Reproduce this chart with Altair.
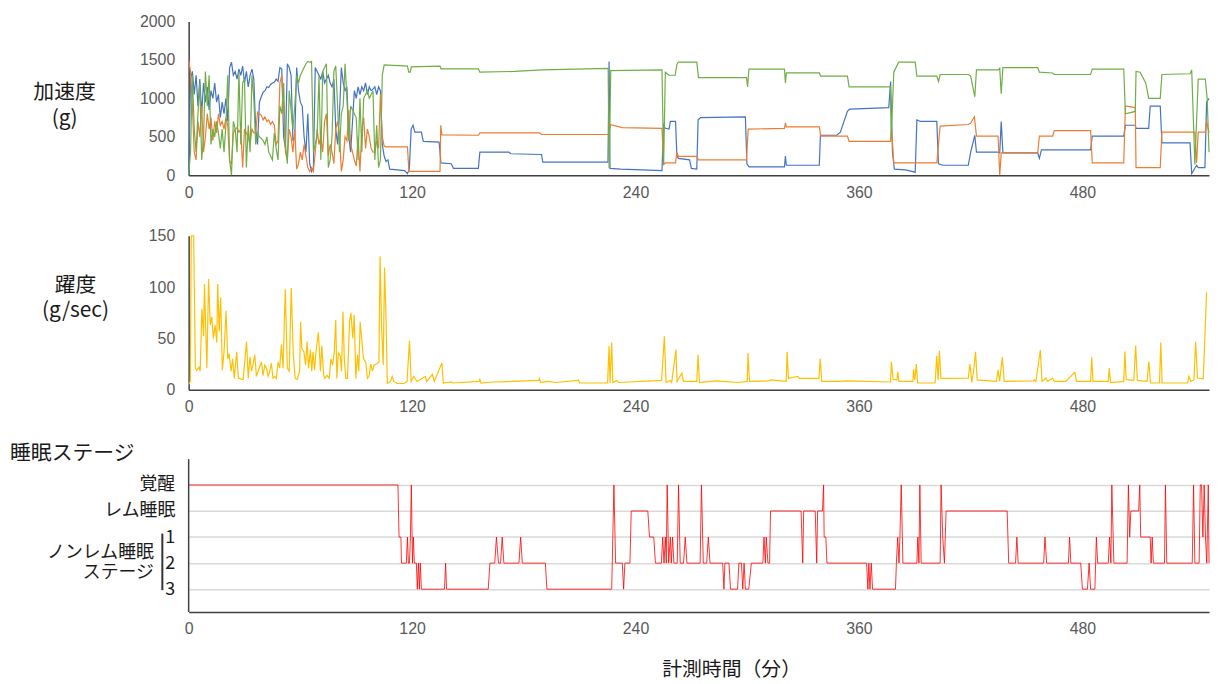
import altair as alt
import pandas as pd

# ---------------- data ----------------
# acceleration, dense part sampled every minute (t = 0..102)
blue_dense = [0,1250,1350,1050,1300,900,1250,800,1200,950,
              1150,850,1100,1000,1200,950,1050,750,950,800,
              1000,700,1400,1470,1300,1350,1250,1380,1300,1420,
              1200,1350,1150,1300,1380,1250,600,400,950,1020,
              1080,1100,1150,1140,1180,1200,1210,1250,1220,1400,
              1380,500,350,1450,1400,1300,450,500,1400,1100,
              950,900,500,300,800,150,50,100,1400,1350,
              1300,1250,1350,1200,1250,1300,1200,1150,1250,600,
              400,800,1400,1200,1100,1150,500,300,700,1100,
              1000,1150,1050,1150,1100,1200,1050,1150,1100,1120,
              1150,1050,1150]
orange_dense = [1500,1350,900,300,200,700,500,900,300,500,
                800,600,750,450,700,550,800,650,700,600,
                750,650,180,150,550,600,620,560,600,100,
                600,550,500,400,600,550,550,820,800,780,
                720,760,700,720,660,700,650,400,450,1200,
                1300,900,300,200,600,500,300,600,80,150,
                300,200,400,250,100,50,100,50,300,600,
                400,500,300,700,800,250,400,300,150,600,
                700,550,50,200,500,450,850,400,300,200,
                120,500,50,600,750,350,600,500,350,300,
                300,450,350]
green_dense = [0,300,1300,600,300,800,1200,200,500,1350,
               900,1300,400,600,500,700,550,350,600,300,
               650,1300,200,0,700,600,300,1350,400,1200,
               1250,100,650,300,1300,1000,400,550,500,480,
               450,400,500,300,250,200,550,350,200,900,
               800,1200,400,150,1100,850,600,900,1300,1200,
               1300,1350,1400,1450,1480,1470,1480,300,400,500,
               1300,200,1350,1400,1450,100,200,500,1350,1420,
               900,300,800,900,1450,1000,450,900,850,800,
               750,200,1000,300,1000,1050,1100,1000,1050,1100,
               200,650,100]

blue_tail = [(103,1100),(104,400),(105,250),(106,180),(107,200),(108,80),(112,70),(116,60),
             (117.5,20),(118.5,80),(119.5,600),(120.5,650),(121.5,560),(125,560),(126,440),
             (134.5,430),(135.5,160),(141,150),(142.2,90),(155.6,90),(156.4,300),(172,300),
             (173,280),(189.5,270),(190.2,170),(225.2,170),(225.8,1480),(226.3,90),(232,80),
             (254.2,60),(255.1,650),(256,610),(258,600),(258.7,700),(261.5,700),(262.2,260),
             (263,220),(269,200),(270,90),(272.9,80),(273.6,720),(275,750),(299,760),
             (299.8,150),(301,110),(320,110),(320.5,250),(321,130),(338.7,130),(339.3,520),
             (348,520),(350,560),(353.8,830),(355,860),(376,880),(377,1220),(378,300),
             (379,80),(385,70),(390.2,40),(391.1,720),(393,700),(401.8,700),(402.7,150),
             (405,130),(418.7,130),(420,300),(422.2,520),(423.1,300),(434.7,300),(435.6,290),
             (436.4,700),(437.3,290),(456,290),(456.9,220),(458,330),(484.4,330),(485.3,510),
             (502.2,510),(503.1,650),(508.4,650),(508.8,610),(515.6,610),(516.4,900),
             (521.8,900),(522.7,420),(537.8,420),(538.7,20),(541.3,130),(542.2,100),
             (545.8,100),(546.7,950),(548,1000)]
orange_tail = [(103,1050),(104,500),(105,380),(106,370),(117.5,370),(118.3,50),(135,50),
               (135.4,650),(136,525),(155.6,520),(156.4,550),(188.4,550),(189.5,530),
               (225.5,530),(226.7,657),(232.9,620),(254.2,610),(255.1,140),(256,160),
               (261.5,160),(262.2,300),(263,245),(272.9,245),(273.8,200),(299.6,200),
               (300.5,600),(320,610),(320.5,680),(321,630),(338.7,630),(339.5,510),
               (353.8,510),(354.7,440),(376.9,440),(377.5,610),(378.7,160),(401.8,160),
               (403.6,640),(418.7,660),(420,680),(422,760),(423.1,510),(434.7,510),
               (435.6,0),(436.4,290),(456,290),(456.9,510),(464,510),(464.9,580),
               (484.4,580),(485.3,160),(502.2,160),(503.1,900),(508.4,880),(508.8,100),
               (521.8,100),(522.7,560),(540.4,560),(541.3,160),(542.2,560),(546,560),
               (546.7,700),(548,550)]
green_tail = [(103,200),(104,1300),(105,1436),(117.5,1420),(118.2,1340),(119,1340),
              (119.6,1410),(135,1420),(135.5,1384),(155.6,1384),(156.4,1340),(175,1350),
              (190,1370),(225.3,1390),(225.8,90),(226.7,1360),(254.2,1370),(255.1,140),
              (256,1340),(258,1300),(261.3,1300),(262.2,1440),(263,1470),(272.9,1470),
              (273.8,1270),(299.6,1270),(300.2,1150),(300.9,1380),(320,1380),(320.5,1200),
              (321,1330),(338.7,1330),(339.5,1290),(353.8,1290),(354.7,1150),(376.9,1150),
              (377.3,482),(378.7,1340),(381.3,1470),(390.2,1470),(391.1,1290),(401.8,1290),
              (402.7,1220),(403.6,1310),(418.7,1310),(420,1290),(422.2,1020),(423.1,1370),
              (434.7,1370),(435.6,1390),(436.4,1060),(437.3,1400),(456,1400),(456.9,1340),
              (464,1330),(464.9,1310),(484.4,1310),(485.3,1380),(502.2,1380),(503.1,800),
              (508.4,830),(508.8,1350),(511,1340),(514,1200),(515.6,1000),(521.8,1000),
              (522.7,1310),(537.8,1320),(538.7,1370),(540.4,140),(542.2,1250),(546,1250),
              (547,1000),(548,300)]

# jerk (g/sec): (minute, value)
jerk_pts = [(0,5),(0.9,8),(1.4,150),(2.7,150),(3.6,21),(4.4,19),(5.5,22),(6.2,18),(7.1,79),
    (8.0,52),(8.5,103),(9.2,58),(9.8,21),(10.7,108),(11.6,63),(12.4,71),(13.3,50),(14.2,63),
    (15.1,46),(15.6,103),(16.4,57),(17.2,90),(18.1,19),(19.0,37),(20.1,77),(21.0,30),(21.7,35),
    (22.8,18),(23.6,30),(24.5,11),(25.8,37),(26.7,11),(27.6,11),(28.4,10),(29.3,10),(31.1,47),
    (32.0,11),(32.9,32),(33.8,18),(34.7,26),(35.5,34),(36.4,13),(37.3,18),(39.1,27),(40.0,14),
    (40.9,24),(41.8,21),(42.7,13),(43.6,18),(44.4,26),(45.3,11),(46.2,13),(47.1,11),(48.0,27),
    (48.9,21),(49.8,44),(50.7,21),(51.9,98),(53.0,21),(54.0,18),(55.1,99),(56.2,34),(57.2,11),
    (58.3,10),(59.6,18),(60.1,66),(60.8,40),(61.9,37),(62.8,24),(63.6,47),(64.4,21),(65.4,39),
    (66.1,18),(66.8,37),(67.6,19),(68.4,37),(69.7,56),(70.8,18),(71.5,43),(72.5,14),(73.2,11),
    (74.3,14),(75.5,11),(76.4,30),(77.3,24),(78.2,37),(79.0,68),(79.6,11),(80.4,36),(81.4,33),
    (82.1,18),(82.9,76),(83.6,30),(84.4,11),(85.3,11),(86.4,66),(87.1,75),(88.2,50),(88.9,73),
    (89.8,11),(90.7,34),(91.4,18),(92.1,66),(93.0,48),(93.9,30),(95.1,27),(96.0,11),(96.9,13),
    (97.8,25),(98.7,18),(99.6,24),(101.0,25),(102.2,27),(102.8,130),(103.6,63),(104.5,24),
    (105.2,119),(106.1,63),(106.7,6),(108.4,8),(109.3,13),(110.2,8),(112.0,6),(115.6,6),
    (117.3,8),(118.6,48),(119.5,8),(120.9,13),(122.7,8),(127.1,13),(127.8,8),(130.9,15),
    (131.9,8),(136,26),(136.8,6.5),(141,7.5),(142,6.5),(156,8),(156.4,10),(157,6.5),
    (163.5,7.5),(174,8),(188,9),(188.4,11),(189,7),(193,8),(197.3,7),(209,9),(209.4,9.5),
    (210,6.5),(225,6.5),(225.8,42.5),(226.3,6.5),(227.2,46),(227.8,7),(230,9),(231,7),
    (254,9),(255.5,52),(256.4,7),(258.5,9),(259.4,7),(261.7,39),(262.3,8),(264.9,16),
    (265.7,8),(272.9,8),(273.6,34),(274.3,7),(283.5,8.5),(287,8),(295,7),(300,8),(300.4,35.6),
    (301.2,8),(311.1,8.5),(312.5,9.5),(315,9),(320.9,8),(321.4,37),(322.1,11),(327.1,13),
    (328,11),(338.5,11),(339.2,30),(340,8),(349.3,8),(353.8,8.5),(377,7.5),(377.4,27.4),
    (378.3,10),(380.4,9.5),(380.8,17.4),(381.5,8),(389,8),(389.3,20),(390,9.5),(390.8,25),
    (391.5,6.5),(400.9,6.5),(401.8,33),(402.5,9.5),(403.2,38),(404,11),(418.7,11.3),
    (419.6,25),(420.6,7),(421.7,20),(422.6,37),(423.5,9.5),(433.8,8),(434.7,19.4),(435.5,8),
    (437,31.5),(438,8),(453.5,8.5),(454.2,9.5),(455,8),(457.4,38.7),(458.3,8),(460.4,11.3),
    (461.3,8),(464,11.3),(464.9,8),(471.1,8),(475.9,17),(476.8,8),(484.4,8),(485,31.5),
    (485.7,8),(493.9,8),(494.4,21),(495.1,7),(502.2,8),(502.8,37.2),(503.5,9.7),(507.6,9),
    (508.6,43),(509.5,9),(514.7,8),(515.7,27.4),(516.6,6.5),(521.4,6.5),(522.1,46),
    (522.8,6.5),(536.5,6.5),(537.2,13),(538.2,8),(539.9,9.7),(540.8,46.7),(541.8,11.3),
    (544.9,10.5),(546.7,95)]

# sleep stage: 5=覚醒, 4=レム睡眠, 3=N1, 2=N2, 1=N3
stage_pts = [(0,5),(112.4,5),(113,3),(114,3),(114.3,2),(116.9,2),(117.5,3),(118,2),(118.6,2),
    (119.1,3),(119.6,5),(120.2,2),(120.7,3),(121.2,2),(122.3,2),(122.8,1),(123.4,2),(123.9,1),
    (124.4,2),(125,1),(137.4,1),(138,2),(138.5,1),(160.9,1),(161.8,2),(164.4,2),(165.3,3),
    (166.4,2),(167.5,2),(168.4,3),(169.3,2),(177.4,2),(178.3,3),(179.2,2),(191.6,2),(192.4,1),
    (227.2,1),(228.4,5),(229.3,2),(232.9,2),(233.6,1),(234.3,2),(237,2),(237.7,4),(246.6,4),
    (247.5,3),(249.8,3),(250.7,2),(253.9,2),(254.6,3),(255.3,2),(256,3),(256.5,2),(257,5),
    (257.8,2),(258.7,3),(259.2,2),(259.9,3),(260.6,2),(262.4,2),(263.1,5),(264,2),(265.8,2),
    (266.7,3),(267.6,2),(274.7,2),(275.4,5),(276.4,2),(278.2,2),(279.1,3),(280,2),(286.8,2),
    (287.5,1),(288,2),(290.2,2),(291,1),(294.8,1),(295.5,2),(296.9,2),(297.6,1),(298.3,2),
    (299,1),(300.8,1),(302.2,2),(308.4,2),(309,3),(309.7,2),(310.2,3),(311.1,2),(312,2),
    (312.5,4),(328.9,4),(329.8,2),(330.3,4),(336.5,4),(337.3,2),(337.8,4),(340.4,4),(341,5),
    (341.3,3),(342.2,3),(342.8,2),(364.1,2),(364.8,1),(365.3,2),(365.9,1),(366.6,2),(367.3,1),
    (379.6,1),(380.1,2),(380.8,3),(381.5,2),(382,3),(382.7,5),(383.6,2),(391.1,2),(391.6,3),
    (392.2,2),(392.7,5),(393.4,2),(403.6,2),(404.1,5),(405,3),(405.9,2),(406.8,4),(439.6,4),
    (440.4,2),(444.1,2),(444.8,3),(445.5,2),(459.2,2),(459.9,3),(460.8,2),(472.5,2),(473.1,3),
    (473.8,2),(479.1,2),(480,1),(482.7,1),(483.6,2),(484.4,1),(486.7,1),(487.5,3),(488.2,2),
    (493.9,2),(494.6,3),(495.3,2),(495.8,5),(496.9,2),(504,2),(504.7,5),(505.4,3),(506,4),
    (510.2,4),(510.8,5),(511.3,3),(516.4,3),(516.9,2),(517.5,3),(518.1,2),(524.1,2),(524.6,5),
    (525.3,2),(539,2),(539.7,5),(540.4,2),(542.7,2),(543.3,5),(544,5),(544.7,3),(545.4,5),
    (546.1,3),(546.8,2),(547.6,5),(548,2)]

x_ticks = [0, 120, 240, 360, 480]
accel_ticks = [0, 500, 1000, 1500, 2000]
jerk_ticks = [0, 50, 100, 150]
stage_levels = [1, 2, 3, 4, 5]

# ---------------- chart ----------------
W = 1028
JP = "Noto Sans CJK JP"
NUM = "Liberation Sans"
GRAY = "#595959"
AXC = "#404040"


def series_df(dense, tail):
    rows = [(float(i), float(v)) for i, v in enumerate(dense)] + [(float(a), float(b)) for a, b in tail]
    return pd.DataFrame(rows, columns=["t", "v"])


xscale = alt.Scale(domain=[0, 548], nice=False, zero=False)


def xaxis():
    return alt.Axis(values=x_ticks, ticks=False, grid=False, labelPadding=9, labelFontSize=16,
                    labelColor=GRAY, labelFont=NUM, labelFlush=False, domainColor=AXC,
                    domainWidth=1.5, format="d", title="")


def yaxis(vals):
    return alt.Axis(values=vals, ticks=False, grid=False, labelPadding=14, labelFontSize=16,
                    labelColor=GRAY, labelFont=NUM, domainColor=AXC, domainWidth=1.5,
                    format="d", title="")


def text_layer(txt, x, y, size, align="center", lh=26):
    return alt.Chart(pd.DataFrame({"txt": [txt]})).mark_text(
        align=align, baseline="middle", lineBreak="\n", font=JP, fontSize=size,
        lineHeight=lh, color="#1a1a1a").encode(x=alt.value(x), y=alt.value(y), text="txt:N")


def accel_line(df, color):
    return alt.Chart(df).mark_line(color=color, strokeWidth=1.2).encode(
        x=alt.X("t:Q", scale=xscale, axis=xaxis()),
        y=alt.Y("v:Q", scale=alt.Scale(domain=[0, 2000], nice=False), axis=yaxis(accel_ticks)))


p1 = alt.layer(
    accel_line(series_df(blue_dense, blue_tail), "#4472C4"),
    accel_line(series_df(orange_dense, orange_tail), "#ED7D31"),
    accel_line(series_df(green_dense, green_tail), "#70AD47"),
    text_layer("加速度\n(g)", -125, 72, 21),
).properties(width=W, height=155)

jerk_df = pd.DataFrame(jerk_pts, columns=["t", "v"])
p2 = alt.layer(
    alt.Chart(jerk_df).mark_line(color="#FFC000", strokeWidth=1.2).encode(
        x=alt.X("t:Q", scale=xscale, axis=xaxis()),
        y=alt.Y("v:Q", scale=alt.Scale(domain=[0, 150], nice=False), axis=yaxis(jerk_ticks))),
    text_layer("躍度\n(g/sec)", -114, 51, 21, lh=25),
).properties(width=W, height=155)

stage_df = pd.DataFrame(stage_pts, columns=["t", "s"])
label_expr = ("datum.value == 5 ? '覚醒' : datum.value == 4 ? 'レム睡眠' : "
              "datum.value == 3 ? '1' : datum.value == 2 ? '2' : '3'")
p3 = alt.layer(
    alt.Chart(stage_df).mark_line(color="#FF0000", strokeWidth=1, opacity=0.8).encode(
        x=alt.X("t:Q", scale=xscale, axis=xaxis()),
        y=alt.Y("s:Q", scale=alt.Scale(domain=[0.124, 6.333], nice=False, zero=False),
                axis=alt.Axis(values=stage_levels, ticks=False, grid=True, gridColor="#d9d9d9",
                              gridWidth=1.5, domain=False, labelExpr=label_expr, labelFont=JP,
                              labelFontSize=18, labelColor="#1a1a1a", labelPadding=14, title=""))),
    alt.Chart(pd.DataFrame({"a": [0]})).mark_rule(color=AXC, strokeWidth=1.5).encode(
        x=alt.value(0), y=alt.value(9), y2=alt.value(163)),
    alt.Chart(pd.DataFrame({"a": [0]})).mark_rule(color="#333333", strokeWidth=2).encode(
        x=alt.value(-26.5), y=alt.value(84), y2=alt.value(141)),
    text_layer("睡眠ステージ", -180, 4, 21, align="left"),
    text_layer("ノンレム睡眠\nステージ", -35, 104, 18, align="right", lh=20),
    text_layer("計測時間（分）", 547, 221, 20),
).properties(width=W, height=163)

chart = alt.vconcat(p1, p2, p3, spacing=61, bounds="flush").properties(
    padding={"left": 2, "top": 3, "right": 0, "bottom": 0}
).configure_view(strokeWidth=0)

chart.save("out.html", embed_options={"renderer": "svg", "actions": False})
